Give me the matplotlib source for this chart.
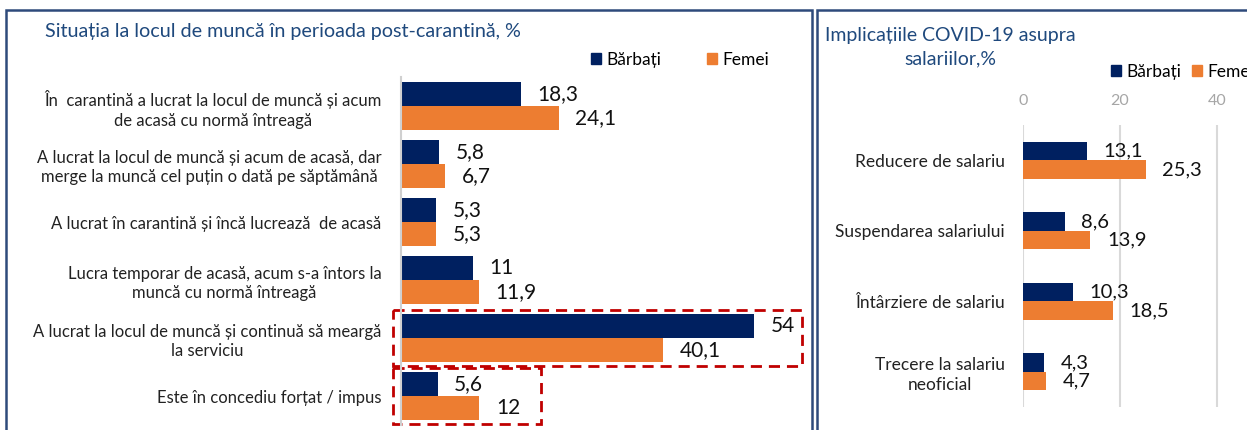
import matplotlib
matplotlib.use("Agg")
import numpy as np
from matplotlib import pyplot as plt
from matplotlib.patches import Rectangle, Patch

plt.rcParams["font.family"] = ["Lato", "DejaVu Sans"]

NAVY = "#002060"
ORANGE = "#ED7D31"
TITLE_C = "#1F497D"
FRAME_C = "#2E4A7B"
RED = "#C00000"

# --- left chart data ---
work_cats = [
    "În  carantină a lucrat la locul de muncă și acum\nde acasă cu normă întreagă",
    "A lucrat la locul de muncă și acum de acasă, dar\nmerge la muncă cel puțin o dată pe săptămână",
    "A lucrat în carantină și încă lucrează  de acasă",
    "Lucra temporar de acasă, acum s-a întors la\nmuncă cu normă întreagă",
    "A lucrat la locul de muncă și continuă să meargă\nla serviciu",
    "Este în concediu forțat / impus",
]
work_men = [18.3, 5.8, 5.3, 11, 54, 5.6]
work_women = [24.1, 6.7, 5.3, 11.9, 40.1, 12]
work_men_lbl = ["18,3", "5,8", "5,3", "11", "54", "5,6"]
work_women_lbl = ["24,1", "6,7", "5,3", "11,9", "40,1", "12"]

# --- right chart data ---
sal_cats = ["Reducere de salariu", "Suspendarea salariului",
            "Întârziere de salariu", "Trecere la salariu\nneoficial"]
sal_men = [13.1, 8.6, 10.3, 4.3]
sal_women = [25.3, 13.9, 18.5, 4.7]
sal_men_lbl = ["13,1", "8,6", "10,3", "4,3"]
sal_women_lbl = ["25,3", "13,9", "18,5", "4,7"]
sal_ticks = [0, 20, 40]

W, H = 1247, 430
fig = plt.figure(figsize=(W / 100, H / 100), dpi=100)


def px_axes(x0, y0, x1, y1):
    return fig.add_axes([x0 / W, 1 - y1 / H, (x1 - x0) / W, (y1 - y0) / H])


# panel frames
fig.patches.append(Rectangle((6 / W, -0.1), (812 - 6) / W, 1.1 - 10 / H, transform=fig.transFigure,
                             fill=False, edgecolor=FRAME_C, linewidth=1.8))
fig.patches.append(Rectangle((817 / W, -0.1), 0.5, 1.1 - 10 / H, transform=fig.transFigure,
                             fill=False, edgecolor=FRAME_C, linewidth=1.8))

# ---------------- left chart ----------------
ax = px_axes(401, 77, 401 + 6.54 * 60, 425)
y = np.arange(len(work_cats))
bh = 0.414
ax.barh(y - bh / 2, work_men, height=bh, color=NAVY)
ax.barh(y + bh / 2, work_women, height=bh, color=ORANGE)
ax.set_xlim(0, 60)
ax.set_ylim(len(work_cats) - 0.5, -0.5)
ax.set_xticks([])
ax.set_yticks(y)
ax.set_yticklabels(work_cats, fontsize=12, color="#222222")
for lbl in ax.get_yticklabels():
    lbl.set_multialignment("center")
    lbl.set_linespacing(1.3)
ax.tick_params(axis="y", length=0, pad=14)
for s in ["top", "right", "bottom"]:
    ax.spines[s].set_visible(False)
ax.spines["left"].set_color("#D0D0D0")
ax.spines["left"].set_linewidth(1.5)
for i in range(len(work_cats)):
    ax.annotate(work_men_lbl[i], (work_men[i], i - bh / 2), xytext=(12, 0), textcoords="offset points",
                va="center", ha="left", fontsize=15, color="#111111")
    ax.annotate(work_women_lbl[i], (work_women[i], i + bh / 2), xytext=(12, 0), textcoords="offset points",
                va="center", ha="left", fontsize=15, color="#111111")

# highlight boxes (category index, right edge in data units)
for idx, right in [(4, 61.3), (5, 21.4)]:
    ax.add_patch(Rectangle((-1.2, idx - 0.49), right + 1.2, 0.97, fill=False, edgecolor=RED,
                           linewidth=2, linestyle=(0, (4, 2.5)), clip_on=False))

fig.text(45 / W, 1 - 31 / H, "Situația la locul de muncă în perioada post-carantină, %",
         fontsize=14.2, color=TITLE_C, va="center", ha="left")

handles = [Patch(color=NAVY, label="Bărbați"), Patch(color=ORANGE, label="Femei")]
fig.legend(handles=handles, loc="center left", bbox_to_anchor=(591 / W, 1 - 60 / H), ncol=2,
           frameon=False, fontsize=12.5, handlelength=0.6, handleheight=0.6, handletextpad=0.3,
           columnspacing=2.6, borderaxespad=0, borderpad=0)

# ---------------- right chart ----------------
ax2 = px_axes(1023, 125, 1023 + 4.85 * 50, 407)
y2 = np.arange(len(sal_cats))
bh2 = 0.262
ax2.barh(y2 - bh2 / 2, sal_men, height=bh2, color=NAVY, zorder=3)
ax2.barh(y2 + bh2 / 2, sal_women, height=bh2, color=ORANGE, zorder=3)
ax2.set_xlim(0, 50)
ax2.set_ylim(len(sal_cats) - 0.5, -0.5)
ax2.set_xticks(sal_ticks)
ax2.xaxis.tick_top()
ax2.tick_params(axis="x", length=0, pad=12, labelsize=11.5, labelcolor="#A6A6A6")
ax2.grid(axis="x", color="#D9D9D9", linewidth=1.5, zorder=0)
ax2.set_yticks(y2)
ax2.set_yticklabels(sal_cats, fontsize=12.5, color="#222222")
for lbl in ax2.get_yticklabels():
    lbl.set_multialignment("center")
    lbl.set_linespacing(1.3)
ax2.tick_params(axis="y", length=0, pad=13)
for s in ax2.spines.values():
    s.set_visible(False)
for i in range(len(sal_cats)):
    ax2.annotate(sal_men_lbl[i], (sal_men[i], i - bh2 / 2), xytext=(12, 0), textcoords="offset points",
                 va="center", ha="left", fontsize=14.5, color="#111111", zorder=4)
    ax2.annotate(sal_women_lbl[i], (sal_women[i], i + bh2 / 2), xytext=(12, 0), textcoords="offset points",
                 va="center", ha="left", fontsize=14.5, color="#111111", zorder=4)

fig.text(950 / W, 1 - 47 / H, "Implicațiile COVID-19 asupra\nsalariilor,%", fontsize=14,
         color=TITLE_C, va="center", ha="center", multialignment="center", linespacing=1.5)

fig.legend(handles=handles, loc="center left", bbox_to_anchor=(1111 / W, 1 - 72 / H), ncol=2,
           frameon=False, fontsize=12.5, handlelength=0.6, handleheight=0.6, handletextpad=0.3,
           columnspacing=0.6, borderaxespad=0, borderpad=0)

fig.savefig("out.png", dpi=100)
